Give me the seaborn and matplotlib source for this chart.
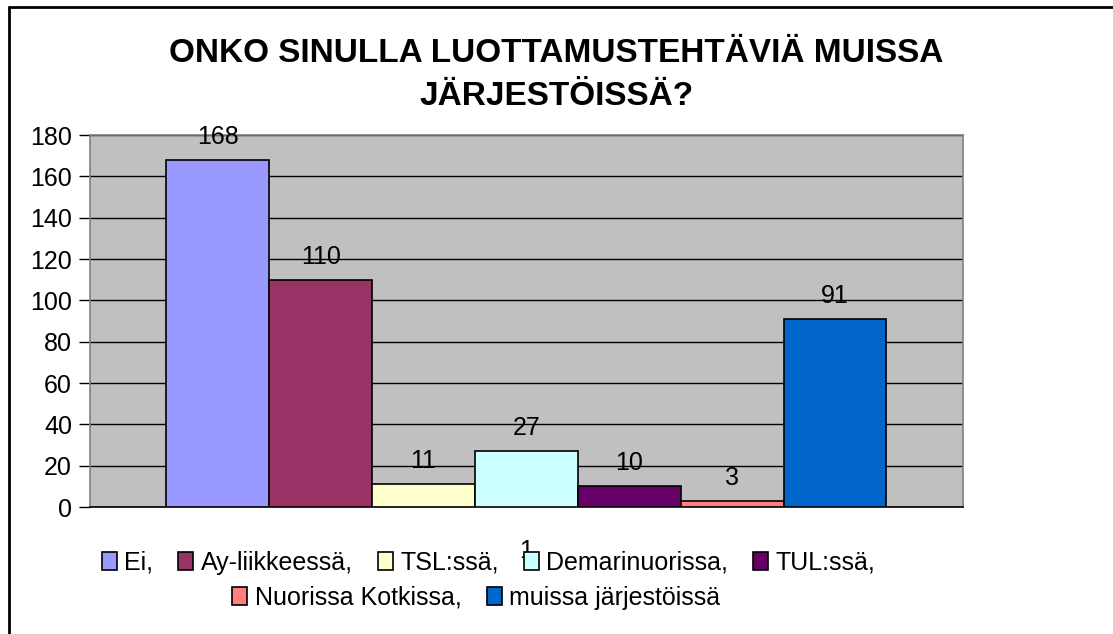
import pandas as pd
import matplotlib.pyplot as plt
import seaborn as sns
from matplotlib.patches import Patch
from matplotlib.lines import Line2D

# Data
kategoriat = ["1"]
vastaukset = ["Ei,", "Ay-liikkeessä,", "TSL:ssä,", "Demarinuorissa,", "TUL:ssä,",
              "Nuorissa Kotkissa,", "muissa järjestöissä"]
arvot = [168, 110, 11, 27, 10, 3, 91]
varit = ["#9999FF", "#993366", "#FFFFCC", "#CCFFFF", "#660066", "#FF8080", "#0066CC"]
y_ticks = [0, 20, 40, 60, 80, 100, 120, 140, 160, 180]

df = pd.DataFrame({
    "kysymys": kategoriat * len(vastaukset),
    "vastaus": vastaukset,
    "lkm": arvot,
})

sns.set_style("white")
plt.rcParams['font.family'] = ['Liberation Sans', 'DejaVu Sans']
plt.rcParams['text.color'] = 'black'
plt.rcParams['xtick.color'] = 'black'
plt.rcParams['ytick.color'] = 'black'

fig = plt.figure(figsize=(11.13, 6.34), dpi=100)
ax = fig.add_axes([0.0809, 0.2003, 0.865 - 0.0809, 0.787 - 0.2003])

sns.barplot(data=df, x="kysymys", y="lkm", hue="vastaus", hue_order=vastaukset,
            palette=varit, saturation=1, width=0.825, edgecolor="black", linewidth=1.2,
            dodge=True, legend=False, ax=ax, zorder=3)

ax.set_facecolor("#C0C0C0")
ax.set_xlim(-0.5, 0.5)
ax.set_ylim(0, 180)
ax.set_yticks(y_ticks)
ax.yaxis.grid(True, color="black", linewidth=1, zorder=0)
ax.set_axisbelow(True)
ax.tick_params(axis="y", direction="out", length=8, width=1, color="black",
               labelsize=18, left=True, pad=5)
ax.tick_params(axis="x", length=0, labelsize=18, pad=23)
ax.set_xticks([-0.5, 0.5], minor=True)
ax.tick_params(axis="x", which="minor", direction="out", length=8, width=1, color="#808080")
ax.set_xlabel("")
ax.set_ylabel("")

for side in ["left", "top", "right"]:
    ax.spines[side].set_color("#808080")
    ax.spines[side].set_linewidth(1.2)
ax.spines["bottom"].set_color("black")
ax.spines["bottom"].set_linewidth(1.2)

for cont in ax.containers:
    ax.bar_label(cont, fontsize=18, padding=8)

fig.text(0.5, 0.882, "ONKO SINULLA LUOTTAMUSTEHTÄVIÄ MUISSA\nJÄRJESTÖISSÄ?",
         ha="center", va="center", fontsize=24, fontweight="bold", linespacing=1.5)

handles = [Patch(facecolor=c, edgecolor="black", linewidth=1.2) for c in varit]
leg_kw = dict(frameon=False, fontsize=18, handlelength=0.6, handleheight=0.7,
              handletextpad=0.3, columnspacing=1.0, borderpad=0)
leg1 = fig.legend(handles[:5], vastaukset[:5], ncol=5, loc="center",
                  bbox_to_anchor=(0.439, 0.112), **leg_kw)
leg2 = fig.legend(handles[5:], vastaukset[5:], ncol=2, loc="center",
                  bbox_to_anchor=(0.428, 0.057), **leg_kw)

# chart frame: only top and left edges are visible
fig.add_artist(Line2D([9 / 1113, 1.0], [1 - 7 / 634] * 2, transform=fig.transFigure,
                      color="black", linewidth=2))
fig.add_artist(Line2D([9 / 1113] * 2, [0.0, 1 - 7 / 634], transform=fig.transFigure,
                      color="black", linewidth=2))

fig.savefig("out.png", dpi=100)
